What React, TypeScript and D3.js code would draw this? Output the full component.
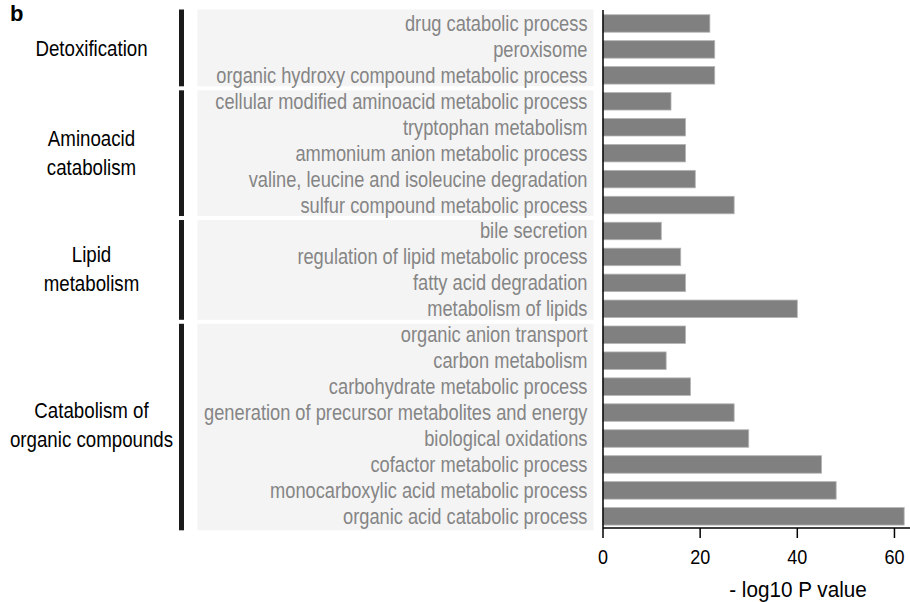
import React from "react";
import * as d3 from "d3";

const terms = [
  "drug catabolic process",
  "peroxisome",
  "organic hydroxy compound metabolic process",
  "cellular modified aminoacid metabolic process",
  "tryptophan metabolism",
  "ammonium anion metabolic process",
  "valine, leucine and isoleucine degradation",
  "sulfur compound metabolic process",
  "bile secretion",
  "regulation of lipid metabolic process",
  "fatty acid degradation",
  "metabolism of lipids",
  "organic anion transport",
  "carbon metabolism",
  "carbohydrate metabolic process",
  "generation of precursor metabolites and energy",
  "biological oxidations",
  "cofactor metabolic process",
  "monocarboxylic acid metabolic process",
  "organic acid catabolic process",
];

const values = [22, 23, 23, 14, 17, 17, 19, 27, 12, 16, 17, 40, 17, 13, 18, 27, 30, 45, 48, 62];

const groupLabels = [
  ["Detoxification"],
  ["Aminoacid", "catabolism"],
  ["Lipid", "metabolism"],
  ["Catabolism of", "organic compounds"],
];
const groupSizes = [3, 5, 4, 8];

const xTicks = [0, 20, 40, 60];

const W = 910;
const H = 602;
const FONT = "'Liberation Sans', Arial, sans-serif";

// the source figure uses a narrow sans, so squeeze regular text horizontally
const Narrow = ({ x, y, sx, size, fill, anchor, children }: any) => (
  <text
    transform={`translate(${x},${y}) scale(${sx},1)`}
    textAnchor={anchor}
    fontSize={size}
    fill={fill}
  >
    {children}
  </text>
);

export default function App() {
  const x = d3.scaleLinear().domain([0, 63.2]).range([603, 910]);
  const y = d3
    .scaleBand<string>()
    .domain(terms)
    .range([10.5, 529.3])
    .paddingInner(0.325)
    .paddingOuter(0.1625);

  const step = y.step();
  const top = y.range()[0];
  const axisY = 528;

  // group extents in rows
  let acc = 0;
  const groups = groupSizes.map((n, i) => {
    const start = top + acc * step;
    acc += n;
    const end = top + acc * step;
    return {
      i,
      y0: start + (i === 0 ? -1 : 2),
      y1: end + (i === groupSizes.length - 1 ? 1 : -2),
      mid: (start + end) / 2,
      lines: groupLabels[i],
    };
  });

  return (
    <svg
      width={W}
      height={H}
      style={{ position: "absolute", left: 0, top: 0, background: "#fff" }}
      fontFamily={FONT}
    >
      <text x={10} y={21} fontSize={22} fontWeight="bold" fill="#000">
        b
      </text>

      {groups.map((g) => (
        <g key={g.i}>
          <rect x={197.5} y={g.y0} width={396} height={g.y1 - g.y0} fill="#f4f4f4" />
          <rect x={179} y={g.y0} width={5} height={g.y1 - g.y0} fill="#1a1a1a" />
          {g.lines.map((ln, j) => (
            <Narrow
              key={j}
              x={91.5}
              y={g.mid + 7 + (j - (g.lines.length - 1) / 2) * 29}
              sx={0.85}
              size={22}
              fill="#000"
              anchor="middle"
            >
              {ln}
            </Narrow>
          ))}
        </g>
      ))}

      {terms.map((t) => (
        <Narrow
          key={t}
          x={587.5}
          y={(y(t) as number) + y.bandwidth() / 2 + 7.5}
          sx={0.83}
          size={22}
          fill="#858585"
          anchor="end"
        >
          {t}
        </Narrow>
      ))}

      {terms.map((t, i) => (
        <rect
          key={t}
          x={x(0)}
          y={y(t)}
          width={x(values[i]) - x(0)}
          height={y.bandwidth()}
          fill="#808080"
          stroke="#b5b5b5"
          strokeWidth={0.8}
        />
      ))}

      {/* axes */}
      <line x1={x(0)} x2={x(0)} y1={10} y2={axisY} stroke="#000" strokeWidth={1.5} />
      <line x1={x(0)} x2={910} y1={axisY} y2={axisY} stroke="#000" strokeWidth={1.5} />
      {xTicks.map((v) => (
        <g key={v}>
          <line x1={x(v)} x2={x(v)} y1={axisY} y2={axisY + 10} stroke="#000" strokeWidth={1.5} />
          <Narrow x={x(v)} y={564} sx={0.9} size={20} fill="#000" anchor="middle">
            {v}
          </Narrow>
        </g>
      ))}
      <Narrow x={798} y={597} sx={0.94} size={22} fill="#000" anchor="middle">
        - log10 P value
      </Narrow>
    </svg>
  );
}
